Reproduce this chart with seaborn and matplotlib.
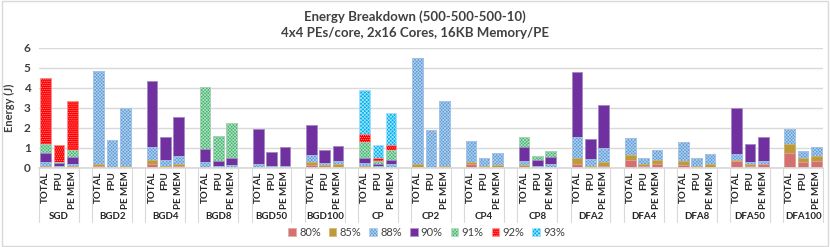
import numpy as np
import pandas as pd
import matplotlib
matplotlib.use("Agg")
import matplotlib.pyplot as plt
from matplotlib.patches import Patch, Rectangle
import seaborn as sns

groups = ["SGD", "BGD2", "BGD4", "BGD8", "BGD50", "BGD100", "CP", "CP2", "CP4",
          "CP8", "DFA2", "DFA4", "DFA8", "DFA50", "DFA100"]
bars = ["TOTAL", "FPU", "PE MEM"]
series = ["80%", "85%", "88%", "90%", "91%", "92%", "93%"]

# segment values (J), order: per group TOTAL, FPU, PE MEM
s80 = [0.02, 0.01, 0.01, 0.08, 0.01, 0.05, 0.20, 0.03, 0.10, 0.01, 0.01, 0.01,
       0.01, 0.01, 0.01, 0.13, 0.05, 0.07, 0.02, 0.01, 0.01, 0.05, 0.01, 0.02,
       0.20, 0.03, 0.07, 0.03, 0.01, 0.01, 0.18, 0.02, 0.12, 0.40, 0.10, 0.22,
       0.13, 0.03, 0.03, 0.35, 0.12, 0.20, 0.73, 0.28, 0.35]
s85 = [0.08, 0.04, 0.07, 0.14, 0.02, 0.05, 0.20, 0.09, 0.12, 0.04, 0.02, 0.04,
       0.02, 0.01, 0.02, 0.19, 0.08, 0.11, 0.08, 0.02, 0.04, 0.15, 0.04, 0.08,
       0.08, 0.05, 0.06, 0.12, 0.02, 0.06, 0.34, 0.08, 0.18, 0.27, 0.12, 0.16,
       0.22, 0.09, 0.19, 0.07, 0.06, 0.02, 0.47, 0.22, 0.27]
s88 = [0.18, 0.07, 0.12, 4.63, 1.39, 2.88, 0.65, 0.26, 0.40, 0.23, 0.07, 0.08,
       0.15, 0.06, 0.05, 0.31, 0.12, 0.15, 0.15, 0.09, 0.13, 5.27, 1.87, 3.22,
       1.09, 0.44, 0.60, 0.22, 0.09, 0.11, 1.03, 0.35, 0.70, 0.81, 0.30, 0.50,
       0.95, 0.38, 0.48, 0.30, 0.10, 0.15, 0.77, 0.35, 0.43]
s90 = [0.47, 0.11, 0.35, 0.00, 0.00, 0.00, 3.28, 1.19, 1.93, 0.67, 0.25, 0.39,
       1.79, 0.72, 0.95, 1.50, 0.65, 0.79, 0.27, 0.10, 0.20, 0.00, 0.00, 0.00,
       0.00, 0.00, 0.00, 0.66, 0.26, 0.37, 3.23, 0.98, 2.15, 0.00, 0.00, 0.00,
       0.00, 0.00, 0.00, 2.25, 0.94, 1.20, 0.00, 0.00, 0.00]
s91 = [0.43, 0.07, 0.33, 0.00, 0.00, 0.00, 0.00, 0.00, 0.00, 3.08, 1.23, 1.71,
       0.00, 0.00, 0.00, 0.00, 0.00, 0.00, 0.78, 0.13, 0.50, 0.00, 0.00, 0.00,
       0.00, 0.00, 0.00, 0.54, 0.24, 0.28, 0.00, 0.00, 0.00, 0.00, 0.00, 0.00,
       0.00, 0.00, 0.00, 0.00, 0.00, 0.00, 0.00, 0.00, 0.00]
s92 = [3.29, 0.83, 2.45, 0.00, 0.00, 0.00, 0.00, 0.00, 0.00, 0.00, 0.00, 0.00,
       0.00, 0.00, 0.00, 0.00, 0.00, 0.00, 0.40, 0.15, 0.29, 0.00, 0.00, 0.00,
       0.00, 0.00, 0.00, 0.00, 0.00, 0.00, 0.00, 0.00, 0.00, 0.00, 0.00, 0.00,
       0.00, 0.00, 0.00, 0.00, 0.00, 0.00, 0.00, 0.00, 0.00]
s93 = [0.00, 0.00, 0.00, 0.00, 0.00, 0.00, 0.00, 0.00, 0.00, 0.00, 0.00, 0.00,
       0.00, 0.00, 0.00, 0.00, 0.00, 0.00, 2.20, 0.67, 1.56, 0.00, 0.00, 0.00,
       0.00, 0.00, 0.00, 0.00, 0.00, 0.00, 0.00, 0.00, 0.00, 0.00, 0.00, 0.00,
       0.00, 0.00, 0.00, 0.00, 0.00, 0.00, 0.00, 0.00, 0.00]
yticks = [0, 1, 2, 3, 4, 5, 6]

face = ["#D47070", "#BF9A3A", "#5B9BD5", "#7030A0", "#3DB36E", "#FF0000", "#00B0F0"]
hatches = [None, None, "x" * 10, None, "x" * 10, "." * 8, "x" * 9]
edges = ["#E4A8A8", "#D4B870", "#B0D0EE", "#B090D0", "#B0E0C2", "#FF9A9A", "#A8E4FA"]

sns.set_theme(style="white")
plt.rcParams["font.family"] = ["Lato", "DejaVu Sans"]
plt.rcParams["hatch.linewidth"] = 0.5

seg = np.array([s80, s85, s88, s90, s91, s92, s93])
cum = np.cumsum(seg, axis=0)

cats = [f"{g}|{b}" for g in groups for b in bars]
order = []
for i, g in enumerate(groups):
    order += [f"{g}|{b}" for b in bars]
    if i < len(groups) - 1:
        order.append(f"_gap{i}")

fig = plt.figure(figsize=(8.3, 2.47), dpi=100)
ax = fig.add_axes([39 / 830, 1 - 168 / 247, (823 - 39) / 830, (168 - 47.7) / 247])

for k in range(len(series) - 1, -1, -1):
    df = pd.DataFrame({"cat": cats, "val": cum[k]})
    kw = dict(edgecolor=edges[k], linewidth=0.5)
    if hatches[k]:
        kw["hatch"] = hatches[k]
    sns.barplot(data=df, x="cat", y="val", order=order, color=face[k],
                saturation=1, errorbar=None, width=0.8, ax=ax, **kw)

ax.set_ylim(0, 6)
ax.set_xlim(-0.5, len(order) - 0.5)
ax.set_yticks(yticks)
ax.set_yticklabels([str(t) for t in yticks], fontsize=8.5, fontweight="bold", color="#404040")
ax.yaxis.grid(True, color="#D9D9D9", linewidth=1)
ax.set_axisbelow(True)
for s in ["top", "right", "left"]:
    ax.spines[s].set_visible(False)
ax.spines["bottom"].set_color("#D9D9D9")
ax.tick_params(axis="y", length=0, pad=6)
ax.set_ylabel("Energy (J)", fontsize=8, fontweight="bold", color="#404040", labelpad=6)
ax.set_xlabel("")

pos = [order.index(c) for c in cats]
ax.set_xticks(pos)
ax.set_xticklabels([c.split("|")[1] for c in cats], rotation=90, fontsize=7,
                   fontweight="bold", color="#262626")
ax.tick_params(axis="x", length=0, pad=2.5)

trans = ax.get_xaxis_transform()
for i, g in enumerate(groups):
    p0 = order.index(f"{g}|TOTAL")
    left, right = p0 - 0.5, p0 + 2.5
    for xx in (left, right):
        ax.plot([xx, xx], [0, -0.445], transform=trans, color="#D9D9D9",
                linewidth=0.8, clip_on=False)
    ax.text(p0 + 1, -0.405, g, transform=trans, ha="center", va="center",
            fontsize=7, fontweight="bold", color="#262626")

fig.text(0.5, 1 - 17 / 247, "Energy Breakdown (500-500-500-10)", ha="center",
         va="center", fontsize=9.5, fontweight="bold", color="#404040")
fig.text(0.5, 1 - 33 / 247, "4x4 PEs/core, 2x16 Cores, 16KB Memory/PE", ha="center",
         va="center", fontsize=9.5, fontweight="bold", color="#404040")

handles = []
for k in range(len(series)):
    handles.append(Patch(facecolor=face[k], edgecolor=edges[k], hatch=hatches[k],
                         linewidth=0.5, label=series[k]))
leg = fig.legend(handles=handles, loc="center", bbox_to_anchor=(0.514, 1 - 232 / 247),
                 ncol=7, frameon=False, fontsize=8, handlelength=0.7, handleheight=0.7,
                 handletextpad=0.3, columnspacing=0.7)
for t in leg.get_texts():
    t.set_color("#404040")

fig.patches.append(Rectangle((0.002, 0.004), 0.996, 0.992, transform=fig.transFigure,
                             fill=False, edgecolor="#D9D9D9", linewidth=1))

fig.savefig("out.png", dpi=100)
